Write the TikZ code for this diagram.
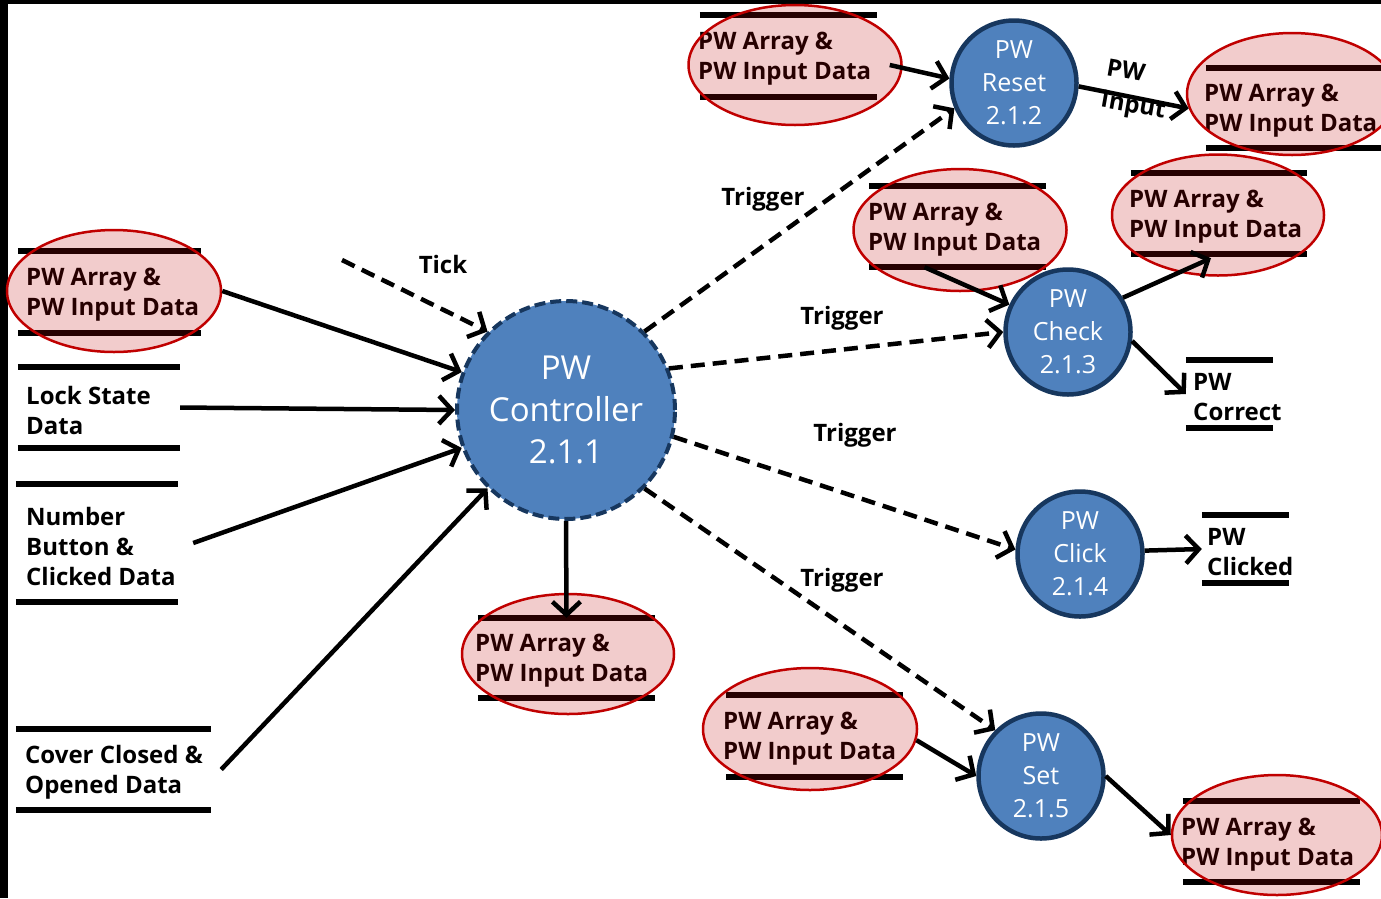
\documentclass[tikz,border=0pt]{standalone}
\usepackage{fontspec}
\setmainfont{Open Sans}
\usetikzlibrary{arrows.meta,shapes.geometric,fit}

\definecolor{procblue}{HTML}{4F81BD}
\definecolor{procedge}{HTML}{17375E}
\definecolor{storered}{HTML}{C00000}

\tikzset{
  flow/.style={line width=4.5pt, -{Straight Barb[length=13pt,width=28pt]}},
  trig/.style={flow, dash pattern=on 14pt off 8pt},
  proc/.style={circle, fill=procblue, draw=procedge, line width=4.5pt, text=white,
    align=center, inner sep=0pt, minimum size=125pt, font=\fontsize{25}{33}\selectfont},
  mainproc/.style={proc, minimum size=218pt, line width=4pt, dash pattern=on 11pt off 5pt,
    font=\fontsize{33}{42}\selectfont},
  storetext/.style={anchor=west, align=left, inner sep=0pt, yshift=-3pt,
    font=\fontsize{24}{30}\selectfont\bfseries},
  storeline/.style={line width=5.5pt},
  lbl/.style={font=\fontsize{24}{28}\selectfont\bfseries, inner sep=0pt},
  highlight/.style={ellipse, draw=storered, line width=2.5pt, fill=storered,
    fill opacity=0.2, draw opacity=1, inner sep=0pt},
}

% data store: name, left, right, top line, bottom line, text left, text
\newcommand{\dstore}[7]{%
  \node[fit={(#2,#4) (#3,#5)}, inner sep=0pt] (#1) {};
  \draw[storeline] (#1.north west) -- (#1.north east) (#1.south west) -- (#1.south east);
  \node[storetext] (#1-text) at (#6,{(#4+#5)/2}) {#7};
}

\begin{document}
\begin{tikzpicture}[x=1pt,y=-1pt]
  \useasboundingbox (0,0) rectangle (1381,898);
  \clip (0,0) rectangle (1381,898);
  \fill[white] (0,0) rectangle (1381,898);
  \fill[black] (0,0) rectangle (1381,4);
  \fill[black] (0,0) rectangle (8,898);

  % data stores
  \dstore{sA}{700}{877}{15}{97}{698}{PW Array \&\\PW Input Data}
  \dstore{sB}{1206}{1385}{68}{148}{1204}{PW Array \&\\PW Input Data}
  \dstore{sL}{18}{201}{251}{333}{26}{PW Array \&\\PW Input Data}
  \dstore{lock}{18}{180}{367}{448}{26}{Lock State\\Data}
  \dstore{num}{16}{178}{484}{602}{26}{Number\\Button \&\\Clicked Data}
  \dstore{cover}{16}{211}{729}{810}{25}{Cover Closed \&\\Opened Data}
  \dstore{sC}{478}{655}{618}{698}{475}{PW Array \&\\PW Input Data}
  \dstore{sD}{869}{1046}{186}{267}{868}{PW Array \&\\PW Input Data}
  \dstore{sE}{1131}{1307}{173}{254}{1129}{PW Array \&\\PW Input Data}
  \dstore{correct}{1186}{1273}{360}{428}{1193}{PW\\Correct}
  \dstore{clicked}{1202}{1289}{515}{583}{1207}{PW\\Clicked}
  \dstore{sF}{726}{903}{695}{777}{723}{PW Array \&\\PW Input Data}
  \dstore{sG}{1183}{1360}{801}{882}{1181}{PW Array \&\\PW Input Data}

  % processes
  \node[mainproc] (ctrl) at (566,410) {PW\\Controller\\2.1.1};
  \node[proc] (reset) at (1014,83) {PW\\Reset\\2.1.2};
  \node[proc] (check) at (1068,332) {PW\\Check\\2.1.3};
  \node[proc] (click) at (1080,554) {PW\\Click\\2.1.4};
  \node[proc] (set) at (1041,776) {PW\\Set\\2.1.5};

  % highlighted stores
  \node[highlight, minimum width=213pt, minimum height=120pt] (hA) at (795,65) {};
  \node[highlight, minimum width=210pt, minimum height=122pt] (hB) at (1292,94) {};
  \node[highlight, minimum width=214pt, minimum height=122pt] (hL) at (114,291) {};
  \node[highlight, minimum width=212pt, minimum height=120pt] (hC) at (568,654) {};
  \node[highlight, minimum width=213pt, minimum height=122pt] (hD) at (960,230) {};
  \node[highlight, minimum width=212pt, minimum height=121pt] (hE) at (1218,215) {};
  \node[highlight, minimum width=214pt, minimum height=122pt] (hF) at (810,729) {};
  \node[highlight, minimum width=210pt, minimum height=120pt] (hG) at (1277,835) {};

  % inputs of the controller
  \coordinate (tickfrom) at (342,260);
  \draw[flow] (hL.east) -- (ctrl.160);
  \draw[flow] (lock.east) -- (ctrl.180);
  \draw[flow] ([xshift=15pt]num.east) -- (ctrl.200);
  \draw[flow] ([xshift=10pt]cover.east) -- (ctrl.225);
  \draw[trig] (tickfrom) -- (ctrl.135);
  \draw[flow] (ctrl.south) -- (sC.north);

  % triggers
  \draw[trig] (ctrl.45) -- (reset.203);
  \draw[trig] (ctrl.22) -- (check.180);
  \draw[trig] (ctrl.-14) -- (click.176);
  \draw[trig] (ctrl.-45) -- (set.135);

  % process data flows
  \draw[flow] ([xshift=-13pt]hA.east) -- (reset.176);
  \draw[flow] (reset.-3) -- (hB.188);
  \draw[flow] ([xshift=-33pt]sD.south) -- (check.155);
  \draw[flow] (check.32) -- ([xshift=-8pt,yshift=-4pt]sE.south);
  \draw[flow] (check.-8) -- (correct.west);
  \draw[flow] (click.3) -- (clicked.west);
  \draw[flow] (hF.-6) -- (set.180);
  \draw[flow] (set.0) -- (hG.west);

  % labels
  \node[lbl] (ticklbl) at (443,264) {Tick};
  \node[lbl] (trA) at (763,199) {Trigger};
  \node[lbl] (trB) at (842,318) {Trigger};
  \node[lbl] (trC) at (855,435) {Trigger};
  \node[lbl] (trD) at (842,580) {Trigger};
  \node[lbl, rotate=-10] (pwlbl) at (1126,70) {PW};
  \node[lbl, rotate=-10] (inlbl) at (1133,107) {Input};
\end{tikzpicture}
\end{document}
